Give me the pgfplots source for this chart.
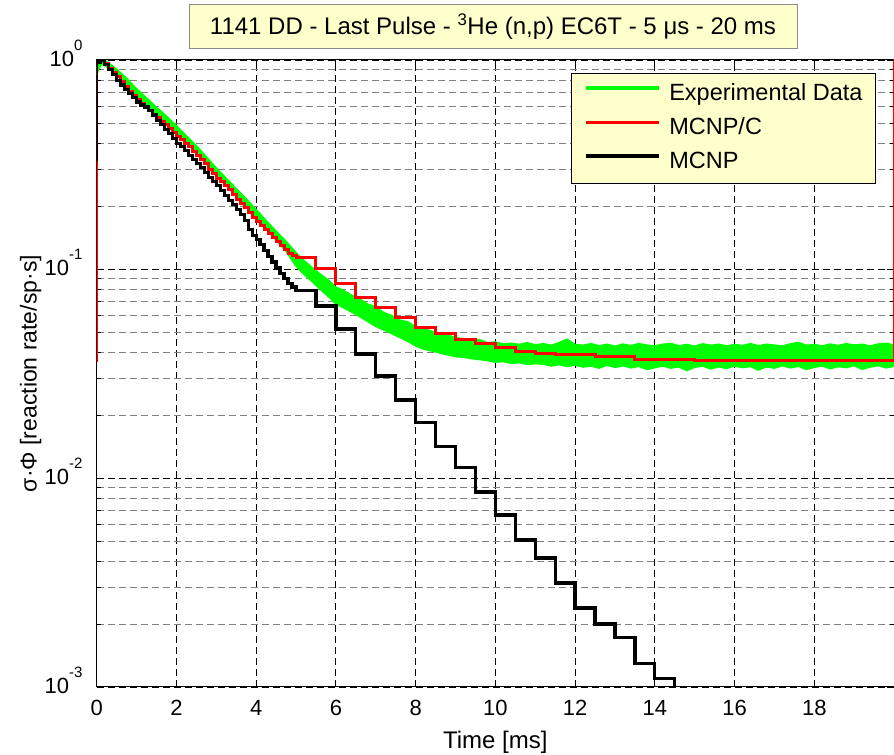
\documentclass[border=0pt]{standalone}
\usepackage{fontspec}
\setmainfont{Liberation Sans}
\usepackage{pgfplots}
\pgfplotsset{compat=1.18}
\definecolor{legbg}{RGB}{255,255,204}
\definecolor{mgreen}{RGB}{0,255,0}
\definecolor{mred}{RGB}{255,0,0}
\newcommand{\ex}[1]{\raisebox{16pt}{\fontsize{15}{15}\selectfont #1}}
\begin{document}
\begin{tikzpicture}
\begin{axis}[name=ax, scale only axis, width=797.3pt, height=627pt,
  xmin=0, xmax=20, ymode=log, ymin=1e-3, ymax=1,
  xtick={0,2,...,18},
  ytick={0.001,0.01,0.1,1},
  yticklabels={10\ex{-3},10\ex{-2},10\ex{-1},10\ex{0}},
  minor ytick={0.002,0.003,0.004,0.005,0.006,0.007,0.008,0.009,0.02,0.03,0.04,0.05,0.06,0.07,0.08,0.09,0.2,0.3,0.4,0.5,0.6,0.7,0.8,0.9},
  grid=both,
  major grid style={black, line width=0.8pt, dash pattern=on 7pt off 4pt},
  minor grid style={black!50, line width=0.8pt, dash pattern=on 7pt off 4pt},
  axis line style={line width=1pt},
  major tick length=7pt, minor tick length=4pt,
  tick style={black, line width=0.8pt},
  /pgf/number format/assume math mode=true,
  tick label style={font=\fontsize{22}{26}\selectfont},
  xticklabel style={anchor=base, inner sep=0pt, yshift=-28.7pt},
  yticklabel style={anchor=base east, inner sep=0pt, xshift=-14pt, yshift=-6.7pt},
  xlabel={Time [ms]},
  ylabel={σ·Φ [reaction rate/sp·s]},
  xlabel style={at={(rel axis cs:0.5,0)}, anchor=base, inner sep=0pt, yshift=-61pt, font=\fontsize{24}{28}\selectfont},
  ylabel style={at={(rel axis cs:0,0.5)}, anchor=center, inner sep=0pt, yshift=66pt, font=\fontsize{23}{26}\selectfont},
  legend entries={Experimental Data, MCNP/C, MCNP},
  legend cell align=left,
  legend image code/.code={\draw[#1] (0pt,6pt) -- (73pt,6pt);},
  legend style={at={(rel axis cs:1,1)}, anchor=north east, xshift=-18pt, yshift=-12.7pt,
    fill=legbg, draw=black, line width=0.8pt, inner xsep=13pt, inner ysep=10pt,
    font=\fontsize{23.5}{28}\selectfont, row sep=12pt,
    /tikz/every odd column/.append style={column sep=8pt},
    nodes={inner sep=0pt, text height=17pt, text depth=5pt}},
]
\addlegendimage{mgreen, line width=4pt}
% Experimental data: noisy band (upper envelope forward, lower envelope back)
\addplot[fill=mgreen, draw=mgreen, line width=1.2pt, forget plot] coordinates {
(0,0.90) (0.05,0.97) (0.12,1.0) (0.2,1.0) (0.3,0.97) (0.5,0.905) (0.75,0.82) (1.0,0.73) (1.25,0.66) (1.5,0.595) (1.75,0.54) (2.0,0.485) (2.25,0.435) (2.5,0.39) (2.75,0.345) (3.0,0.305) (3.25,0.272) (3.5,0.243) (3.75,0.217) (4.0,0.193) (4.25,0.171) (4.5,0.152) (4.75,0.136) (5.0,0.12) (5.2,0.110) (5.4,0.102) (5.6,0.095) (5.8,0.089) (6.0,0.082) (6.2,0.079) (6.4,0.075) (6.6,0.072) (6.8,0.068) (7.0,0.066) (7.2,0.062) (7.4,0.060) (7.6,0.057) (7.8,0.056) (8.0,0.053) (8.2,0.052) (8.4,0.0505) (8.6,0.049) (8.8,0.0485) (9.0,0.047) (9.2,0.0465) (9.4,0.0455) (9.6,0.046) (9.8,0.0445) (10.0,0.0448) (10.2,0.0438) (10.4,0.0442) (10.6,0.0436) (10.8,0.0445) (11.0,0.0434) (11.2,0.0440) (11.4,0.0432) (11.6,0.0445) (11.8,0.0462) (12.0,0.0436) (12.2,0.0432) (12.4,0.0440) (12.6,0.0430) (12.8,0.0437) (13.0,0.0428) (13.2,0.0438) (13.4,0.0431) (13.6,0.0440) (13.8,0.0433) (14.0,0.0429) (14.2,0.0437) (14.4,0.0441) (14.6,0.0430) (14.8,0.0436) (15.0,0.0428) (15.2,0.0439) (15.4,0.0432) (15.6,0.0437) (15.8,0.0429) (16.0,0.0436) (16.2,0.0431) (16.4,0.0440) (16.6,0.0430) (16.8,0.0437) (17.0,0.0433) (17.2,0.0428) (17.4,0.0439) (17.6,0.0446) (17.8,0.0432) (18.0,0.0436) (18.2,0.0429) (18.4,0.0438) (18.6,0.0431) (18.8,0.0440) (19.0,0.0433) (19.2,0.0437) (19.4,0.0429) (19.6,0.0438) (19.8,0.0442) (20.0,0.0433)
(20.0,0.0342) (19.8,0.0336) (19.6,0.0345) (19.4,0.0339) (19.2,0.0331) (19.0,0.0344) (18.8,0.0337) (18.6,0.0341) (18.4,0.0333) (18.2,0.0343) (18.0,0.0338) (17.8,0.0330) (17.6,0.0342) (17.4,0.0336) (17.2,0.0344) (17.0,0.0335) (16.8,0.0340) (16.6,0.0328) (16.4,0.0341) (16.2,0.0337) (16.0,0.0343) (15.8,0.0334) (15.6,0.0340) (15.4,0.0332) (15.2,0.0343) (15.0,0.0338) (14.8,0.0326) (14.6,0.0340) (14.4,0.0335) (14.2,0.0343) (14.0,0.0337) (13.8,0.0330) (13.6,0.0342) (13.4,0.0336) (13.2,0.0344) (13.0,0.0338) (12.8,0.0346) (12.6,0.0335) (12.4,0.0343) (12.2,0.0339) (12.0,0.0347) (11.8,0.0341) (11.6,0.0348) (11.4,0.0343) (11.2,0.0350) (11.0,0.0352) (10.8,0.0349) (10.6,0.0356) (10.4,0.0353) (10.2,0.0360) (10.0,0.0358) (9.8,0.0364) (9.6,0.0368) (9.4,0.0372) (9.2,0.0378) (9.0,0.0380) (8.8,0.0388) (8.6,0.0396) (8.4,0.0405) (8.2,0.0413) (8.0,0.0428) (7.8,0.045) (7.6,0.047) (7.4,0.049) (7.2,0.051) (7.0,0.053) (6.8,0.056) (6.6,0.059) (6.4,0.062) (6.2,0.065) (6.0,0.068) (5.8,0.074) (5.6,0.080) (5.4,0.087) (5.2,0.094) (5.0,0.103) (4.75,0.121) (4.5,0.137) (4.25,0.156) (4.0,0.175) (3.75,0.198) (3.5,0.223) (3.25,0.25) (3.0,0.28) (2.75,0.317) (2.5,0.358) (2.25,0.40) (2.0,0.448) (1.75,0.50) (1.5,0.553) (1.25,0.613) (1.0,0.678) (0.75,0.76) (0.5,0.845) (0.3,0.91) (0.2,0.94) (0.12,0.95) (0.05,0.9) (0,0.85)
};
% MCNP/C
\addplot[mred, line width=3pt, const plot] coordinates {
(0,0.036) (0,0.97) (0.1,1.0) (0.2,0.96) (0.3,0.91) (0.4,0.87) (0.5,0.83) (0.6,0.79) (0.7,0.75) (0.8,0.71) (0.9,0.68) (1.0,0.645) (1.1,0.62) (1.2,0.60) (1.3,0.575) (1.4,0.55) (1.5,0.53) (1.6,0.51) (1.7,0.49) (1.8,0.47) (1.9,0.45) (2.0,0.43) (2.1,0.415) (2.2,0.40) (2.3,0.385) (2.4,0.365) (2.5,0.35) (2.6,0.335) (2.7,0.32) (2.8,0.30) (2.9,0.285) (3.0,0.27) (3.1,0.262) (3.2,0.25) (3.3,0.24) (3.4,0.228) (3.5,0.215) (3.6,0.205) (3.7,0.196) (3.8,0.186) (3.9,0.177) (4.0,0.168) (4.1,0.162) (4.2,0.155) (4.3,0.148) (4.4,0.142) (4.5,0.135) (4.6,0.129) (4.7,0.124) (4.8,0.119) (4.9,0.116) (5.0,0.113) (5.5,0.100) (6.0,0.0857) (6.5,0.0734) (7.0,0.0651) (7.5,0.0589) (8.0,0.0527) (8.5,0.0489) (9.0,0.0462) (9.5,0.0442) (10.0,0.0423) (10.5,0.0401) (11.0,0.0396) (11.5,0.0389) (12.0,0.0389) (12.5,0.0380) (13.0,0.0380) (13.5,0.0371) (14.0,0.0371) (14.5,0.0371) (15.0,0.0366) (20,1.0)
};
% MCNP
\addplot[black, line width=3.3pt, const plot] coordinates {
(0,0.33) (0,0.97) (0.1,1.0) (0.2,0.95) (0.3,0.9) (0.4,0.85) (0.5,0.80) (0.6,0.76) (0.7,0.72) (0.8,0.69) (0.9,0.66) (1.0,0.63) (1.1,0.61) (1.2,0.595) (1.3,0.575) (1.4,0.545) (1.5,0.515) (1.6,0.49) (1.7,0.465) (1.8,0.445) (1.9,0.42) (2.0,0.40) (2.1,0.385) (2.2,0.37) (2.3,0.35) (2.4,0.335) (2.5,0.32) (2.6,0.305) (2.7,0.29) (2.8,0.275) (2.9,0.262) (3.0,0.25) (3.1,0.237) (3.2,0.225) (3.3,0.213) (3.4,0.203) (3.5,0.193) (3.6,0.183) (3.7,0.17) (3.8,0.155) (3.9,0.145) (4.0,0.138) (4.1,0.131) (4.2,0.123) (4.3,0.115) (4.4,0.108) (4.5,0.101) (4.6,0.095) (4.7,0.09) (4.8,0.085) (4.9,0.082) (5.0,0.079) (5.5,0.0665) (6.0,0.0516) (6.5,0.0392) (7.0,0.0308) (7.5,0.0236) (8.0,0.0185) (8.5,0.0142) (9.0,0.0112) (9.5,0.00857) (10.0,0.00665) (10.5,0.00505) (11.0,0.00414) (11.5,0.00315) (12.0,0.00239) (12.5,0.0020) (13.0,0.00173) (13.5,0.0013) (14.0,0.0011) (14.5,0.0001) (20,0.0001)
};
\end{axis}
\node[fill=legbg, draw=black!45, line width=0.8pt, minimum width=608pt, minimum height=44pt, inner sep=0pt, font=\fontsize{24}{28}\selectfont]
  at ([shift={(396.3pt,33.5pt)}]ax.north west) {1141 DD - Last Pulse - \textsuperscript{3}He (n,p) EC6T - 5 μs - 20 ms};
\pgfresetboundingbox
\path ([shift={(-96.7pt,-68pt)}]ax.south west) rectangle ([shift={(0pt,60pt)}]ax.north east);
\end{tikzpicture}
\end{document}
